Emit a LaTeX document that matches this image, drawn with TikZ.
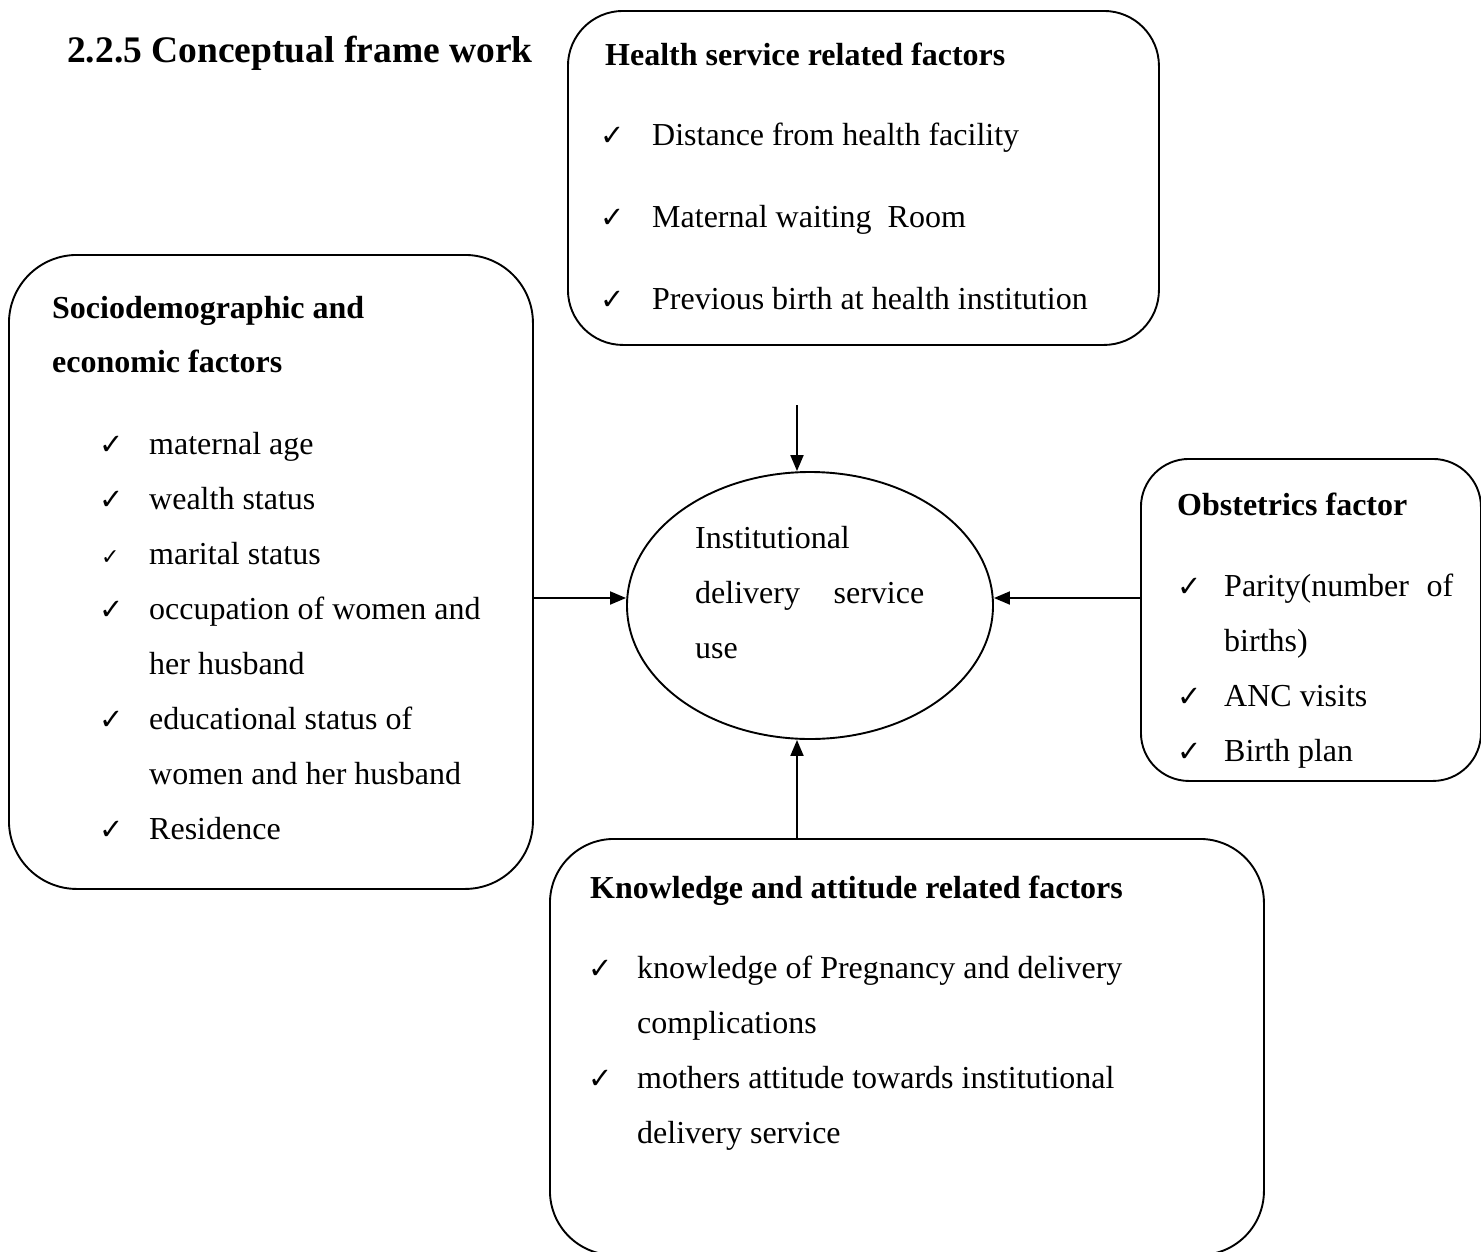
\documentclass[tikz,border=0pt]{standalone}
\usepackage{fontspec}
\setmainfont{Liberation Serif}
\newfontfamily\symfont{DejaVu Sans}
\usetikzlibrary{arrows.meta,shapes.geometric}
\tikzset{
  box/.style={draw, line width=1.9pt, anchor=north west, inner sep=0pt},
  txt/.style={anchor=base west, inner sep=0pt, font=\fontsize{32}{38}\selectfont},
  hd/.style={anchor=base west, inner sep=0pt, font=\fontsize{32}{38}\selectfont\bfseries},
  chk/.style={anchor=base west, inner sep=0pt, font=\symfont\bfseries\fontsize{29}{32}\selectfont},
  smallchk/.style={anchor=base west, inner sep=0pt, font=\symfont\bfseries\fontsize{22}{24}\selectfont},
  arr/.style={line width=1.9pt, -{Triangle[length=16pt,width=13pt]}},
}
\begin{document}
\begin{tikzpicture}[x=1pt,y=-1pt]
\useasboundingbox (0,0) rectangle (1481,1251);

% title
\node[anchor=base west, inner sep=0pt, font=\fontsize{37.5}{40}\selectfont\bfseries] (title) at (67,62) {2.2.5 Conceptual frame work};

% boxes
\node[box, rounded corners=55pt, minimum width=591pt, minimum height=334pt] (health) at (567,10) {};
\node[box, rounded corners=68pt, minimum width=524pt, minimum height=634pt] (socio) at (8,254) {};
\node[box, rounded corners=48pt, minimum width=340pt, minimum height=322pt] (obst) at (1140,458) {};
\node[box, rounded corners=64pt, minimum width=714pt, minimum height=416pt] (know) at (549,838) {};
\node[draw, ellipse, line width=1.9pt, inner sep=0pt, minimum width=366pt, minimum height=267pt] (ell) at (810,605.5) {};

% health service
\node[hd] (hh) at (605,65) {Health service related factors};
\node[chk] (hc1) at (600,145) {✓};
\node[txt] (h1) at (652,145) {Distance from health facility};
\node[chk] (hc2) at (600,227) {✓};
\node[txt] (h2) at (652,227) {Maternal waiting\hspace{8pt} Room};
\node[chk] (hc3) at (600,309) {✓};
\node[txt] (h3) at (652,309) {Previous birth at health institution};

% sociodemographic
\node[hd] (sh1) at (52,318) {Sociodemographic and};
\node[hd] (sh2) at (52,372) {economic factors};
\node[chk] (sc1) at (99,454) {✓};
\node[txt] (s1) at (149,454) {maternal age};
\node[chk] (sc2) at (99,509) {✓};
\node[txt] (s2) at (149,509) {wealth status};
\node[smallchk] (sc3) at (101,564) {✓};
\node[txt] (s3) at (149,564) {marital status};
\node[chk] (sc4) at (99,619) {✓};
\node[txt] (s4) at (149,619) {occupation of women and};
\node[txt] (s5) at (149,674) {her husband};
\node[chk] (sc6) at (99,729) {✓};
\node[txt] (s6) at (149,729) {educational status of};
\node[txt] (s7) at (149,784) {women and her husband};
\node[chk] (sc8) at (99,839) {✓};
\node[txt] (s8) at (149,839) {Residence};

% ellipse text
\node[txt] (e1) at (695,548) {Institutional};
\node[txt] (e2) at (695,603) {\hbox to 229pt{delivery\hfill service}};
\node[txt] (e3) at (695,658) {use};

% obstetrics
\node[hd] (oh) at (1177,515) {Obstetrics factor};
\node[chk] (oc1) at (1177,596) {✓};
\node[txt] (o1) at (1224,596) {\hbox to 229pt{Parity(number\hfill of}};
\node[txt] (o2) at (1224,651) {births)};
\node[chk] (oc3) at (1177,706) {✓};
\node[txt] (o3) at (1224,706) {ANC visits};
\node[chk] (oc4) at (1177,761) {✓};
\node[txt] (o4) at (1224,761) {Birth plan};

% knowledge
\node[hd] (kh) at (590,898) {Knowledge and attitude related factors};
\node[chk] (kc1) at (588,978) {✓};
\node[txt] (k1) at (637,978) {knowledge of Pregnancy and delivery};
\node[txt] (k2) at (637,1033) {complications};
\node[chk] (kc3) at (588,1088) {✓};
\node[txt] (k3) at (637,1088) {mothers attitude towards institutional};
\node[txt] (k4) at (637,1143) {delivery service};

% connectors
\coordinate (ly) at (0,598);
\coordinate (ts) at (797,405);
\draw[arr] (socio.east |- ly) -- (ell.west |- ly);
\draw[arr] (obst.west |- ly) -- (ell.east |- ly);
\draw[arr] (ts) -- (ts |- ell.north);
\draw[arr] (ts |- know.north) -- (ts |- ell.south);
\end{tikzpicture}
\end{document}
